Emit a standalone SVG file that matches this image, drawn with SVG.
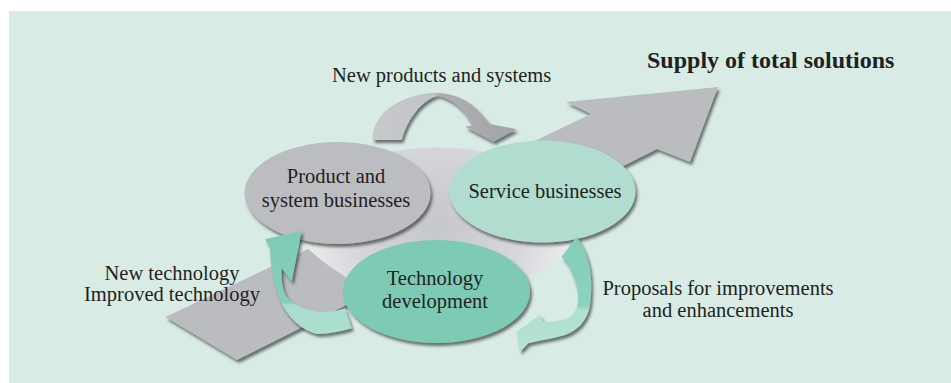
<svg xmlns="http://www.w3.org/2000/svg" width="951" height="383" viewBox="0 0 951 383">
<style>
.t{font-family:"Liberation Serif","Times New Roman",serif;font-size:20.5px;fill:#231f20}
.b{font-weight:bold;font-size:24px}
.m{text-anchor:middle}
</style>
<defs>
<filter id="sh" x="-20%" y="-20%" width="140%" height="150%">
<feDropShadow dx="2" dy="3" stdDeviation="1.8" flood-color="#2a2a2a" flood-opacity="0.65"/>
</filter>
<radialGradient id="bowl" cx="437" cy="225" r="140" gradientUnits="userSpaceOnUse">
<stop offset="0" stop-color="#c6c7cb"/>
<stop offset="0.6" stop-color="#d6d7da"/>
<stop offset="1" stop-color="#eeeef0"/>
</radialGradient>
<linearGradient id="topArrow" x1="372" y1="0" x2="517" y2="0" gradientUnits="userSpaceOnUse">
<stop offset="0" stop-color="#c8c9cc"/>
<stop offset="0.44" stop-color="#c2c3c6"/>
<stop offset="0.45" stop-color="#aeafb3"/>
<stop offset="1" stop-color="#a3a4a8"/>
</linearGradient>
<linearGradient id="gL" x1="0" y1="230" x2="0" y2="334" gradientUnits="userSpaceOnUse">
<stop offset="0" stop-color="#7ecbb5"/>
<stop offset="0.7" stop-color="#86cfba"/>
<stop offset="0.72" stop-color="#a9ddce"/>
<stop offset="1" stop-color="#acdfd0"/>
</linearGradient>
<linearGradient id="gR" x1="0" y1="236" x2="0" y2="352" gradientUnits="userSpaceOnUse">
<stop offset="0" stop-color="#84ceb9"/>
<stop offset="0.6" stop-color="#8dd2be"/>
<stop offset="0.64" stop-color="#afe0d2"/>
<stop offset="1" stop-color="#b5e2d5"/>
</linearGradient>
</defs>
<rect x="9" y="11" width="942" height="372" fill="#d8ece5"/>

<g id="connectors">
<polygon id="supply-arrow" points="165.5,317 591,114 566,102 718,87 690,162 657,149 237,360" fill="#bbbcc0" filter="url(#sh)"/>
<path id="bowl-shape" d="M300,215 C330,125 545,125 576,215 C580,240 560,262 525,280 L350,280 C332,268 316,258 305,245 Z" fill="url(#bowl)"/>
</g>

<g id="node-product">
<ellipse cx="337.5" cy="193" rx="93" ry="51" fill="#bcbdc1" filter="url(#sh)"/>
<text class="t m" x="336" y="183">Product and</text>
<text class="t m" x="336" y="206.5">system businesses</text>
</g>
<g id="node-service">
<ellipse cx="542.5" cy="191.5" rx="93" ry="51" fill="#b1ddd1" filter="url(#sh)"/>
<text class="t m" x="545" y="198">Service businesses</text>
</g>
<g id="node-tech">
<ellipse cx="436.5" cy="291.5" rx="93.5" ry="51.5" fill="#7ecbb5" filter="url(#sh)"/>
<text class="t m" x="435" y="285">Technology</text>
<text class="t m" x="435" y="308">development</text>
</g>

<g id="curved-arrows">
<path d="M372.7,140 C372,118 392,97 432,92.7 C455,92 472,102 482,115 L490,124 L516.7,129.3 L493.3,141.7 L465,126.7 L472,125.5 C466,112 455,100 438,95.5 C422,100 408,118 401.7,140 Z" fill="url(#topArrow)" filter="url(#sh)"/>
<path d="M301.7,230.7 L265,239.3 L270,247 C270,262 273,285 282,304 C290,320 305,332 318,334 C330,334 342,331 351.7,328.3 L345,308.3 C335,312 325,313 318,312 C305,310 292,304 286,296 C282,288 281,278 281.7,268.3 L291.7,281.7 Z" fill="url(#gL)" filter="url(#sh)"/>
<path d="M576.7,236.7 L561.7,256.7 C568,262 574,275 577,288 C580,302 577,312 570,317 C562,321 550,322 543.3,321.7 L540,315 L516.7,331.7 L520,351.7 L528.3,343.3 C540,340 552,339 565,335 C578,330 585,322 589,310 C592,296 592,278 589,265 C587,255 583,246 576.7,236.7 Z" fill="url(#gR)" filter="url(#sh)"/>
</g>

<g id="labels">
<text class="t b" x="647" y="68">Supply of total solutions</text>
<text class="t" x="332" y="82">New products and systems</text>
<text class="t m" x="172" y="280">New technology</text>
<text class="t m" x="172" y="300.5">Improved technology</text>
<text class="t m" x="718" y="295">Proposals for improvements</text>
<text class="t m" x="718" y="317">and enhancements</text>
</g>
</svg>
